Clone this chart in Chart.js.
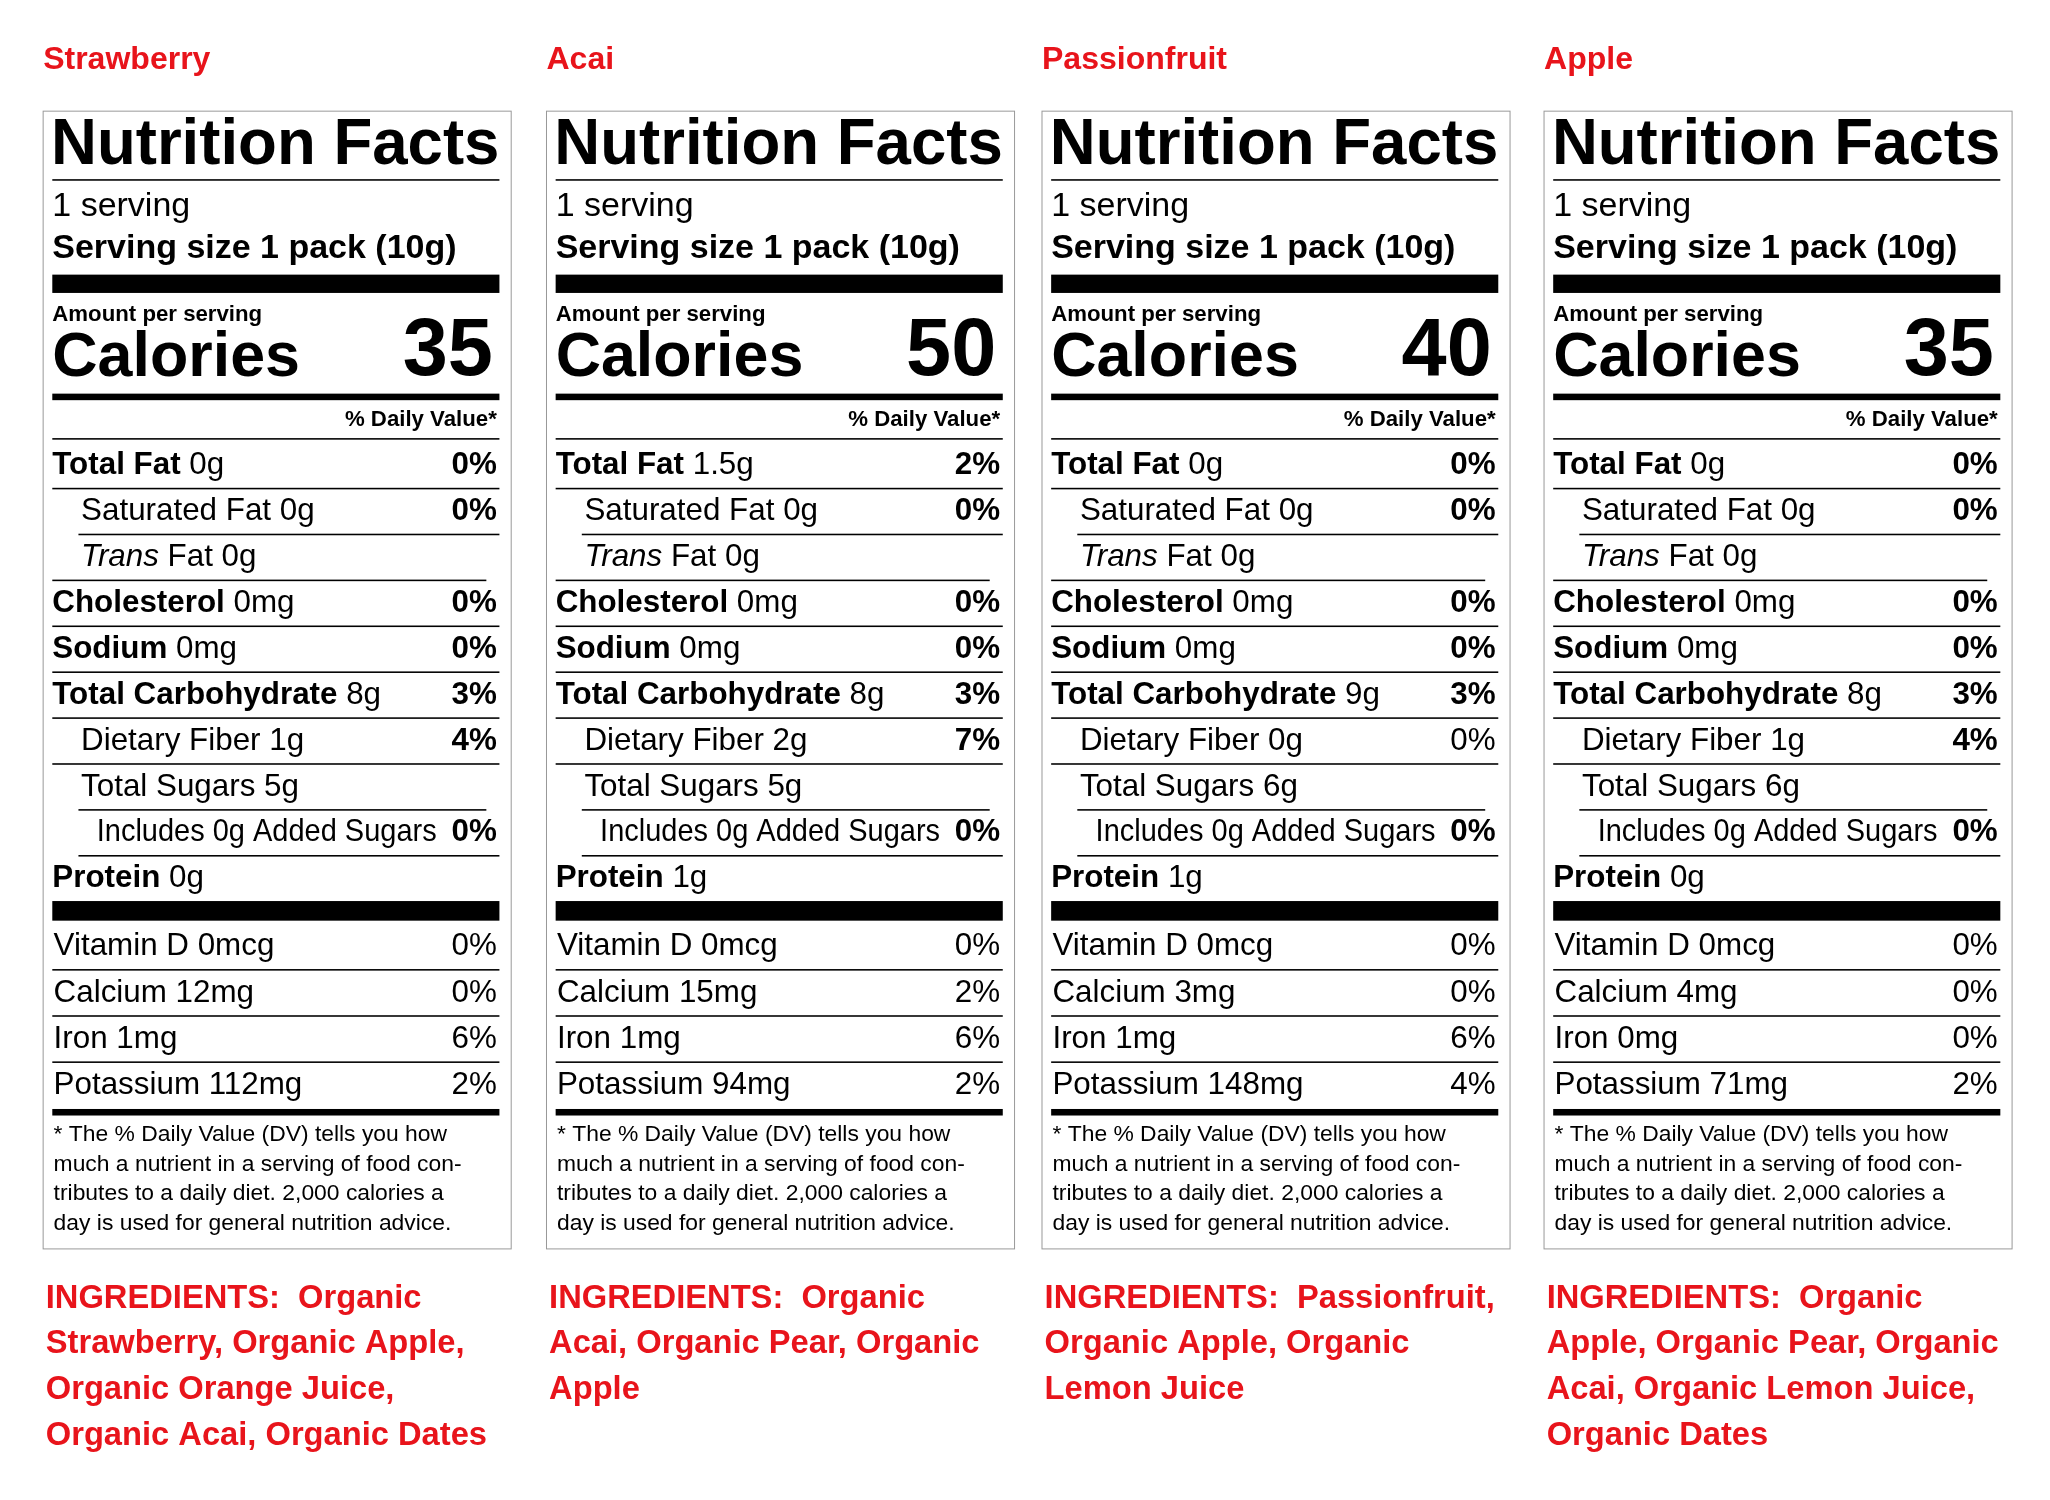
<!DOCTYPE html>
<html><head><meta charset="utf-8">
<script src="https://cdn.jsdelivr.net/npm/chart.js@4/dist/chart.umd.min.js"></script>
<style>html,body{margin:0;padding:0;background:#fff}canvas{display:block}</style>
</head><body><canvas id="c" width="2050" height="1500" style="width:2050px;height:1500px"></canvas>
<script>
const fruits=['Strawberry','Acai','Passionfruit','Apple'];
const calories=[35,50,40,35];
const totalFat=['0g','1.5g','0g','0g'];
const totalFatDV=['0%','2%','0%','0%'];
const satFat=['0g','0g','0g','0g'];
const satFatDV=['0%','0%','0%','0%'];
const transFat=['0g','0g','0g','0g'];
const cholesterol=['0mg','0mg','0mg','0mg'];
const cholesterolDV=['0%','0%','0%','0%'];
const sodium=['0mg','0mg','0mg','0mg'];
const sodiumDV=['0%','0%','0%','0%'];
const carbs=['8g','8g','9g','8g'];
const carbsDV=['3%','3%','3%','3%'];
const fiber=['1g','2g','0g','1g'];
const fiberDV=['4%','7%','0%','4%'];
const fiberDVBold=[true,true,false,true];
const sugars=['5g','5g','6g','6g'];
const addedSugars=['0g','0g','0g','0g'];
const addedSugarsDV=['0%','0%','0%','0%'];
const protein=['0g','1g','1g','0g'];
const vitaminD=['0mcg','0mcg','0mcg','0mcg'];
const vitaminDDV=['0%','0%','0%','0%'];
const calcium=['12mg','15mg','3mg','4mg'];
const calciumDV=['0%','2%','0%','0%'];
const iron=['1mg','1mg','1mg','0mg'];
const ironDV=['6%','6%','6%','0%'];
const potassium=['112mg','94mg','148mg','71mg'];
const potassiumDV=['2%','2%','4%','2%'];
const ingredients=[
 ['INGREDIENTS:  Organic','Strawberry, Organic Apple,','Organic Orange Juice,','Organic Acai, Organic Dates'],
 ['INGREDIENTS:  Organic','Acai, Organic Pear, Organic','Apple'],
 ['INGREDIENTS:  Passionfruit,','Organic Apple, Organic','Lemon Juice'],
 ['INGREDIENTS:  Organic','Apple, Organic Pear, Organic','Acai, Organic Lemon Juice,','Organic Dates']
];
const footnote=['* The % Daily Value (DV) tells you how','much a nutrient in a serving of food con-','tributes to a daily diet. 2,000 calories a','day is used for general nutrition advice.'];
const panelX=[33,418,797,1181];

const F='"Liberation Sans", Arial, Helvetica, sans-serif';
const RED='#e8141b';
const labelPlugin={id:'labels',afterDraw(chart){
 const ctx=chart.ctx, sx=chart.scales.x, sy=chart.scales.y;
 const X=v=>sx.getPixelForValue(v), Y=v=>sy.getPixelForValue(v);
 const k=(X(1568)-X(0))/1568;
 function txt(s,x,y,size,weight,align,color,style,maxW){
  ctx.save();ctx.font=(style||'')+' '+weight+' '+(size*k)+'px '+F;
  ctx.fillStyle=color||'#000';ctx.textBaseline='middle';
  let w=ctx.measureText(s).width;let px=X(x),py=Y(y);
  let sc=1;if(maxW&&w>maxW*k){sc=maxW*k/w;}
  ctx.translate(px,py);ctx.scale(sc,1);
  ctx.textAlign=align||'left';ctx.fillText(s,0,0);ctx.restore();
 }
 function rich(parts,x,y,size,maxW){
  ctx.save();let tw=0;
  parts.forEach(p=>{ctx.font=(p[2]||'')+' '+p[1]+' '+(size*k)+'px '+F;tw+=ctx.measureText(p[0]).width;});
  let sc=(maxW&&tw>maxW*k)?maxW*k/tw:1;
  ctx.translate(X(x),Y(y));ctx.scale(sc,1);ctx.textBaseline='middle';ctx.fillStyle='#000';
  let cx=0;parts.forEach(p=>{ctx.font=(p[2]||'')+' '+p[1]+' '+(size*k)+'px '+F;ctx.fillText(p[0],cx,0);cx+=ctx.measureText(p[0]).width;});
  ctx.restore();
 }
 function bar(x1,x2,y1,y2){ctx.fillStyle='#000';ctx.fillRect(X(x1),Y(y1),X(x2)-X(x1),Math.max(1,Y(y2)-Y(y1)));}
 fruits.forEach((f,i)=>{
  const L=panelX[i], l=L+7, r=L+349, dv=L+347;
  txt(f,L,46,24.5,'bold','left',RED);
  ctx.strokeStyle='#999';ctx.lineWidth=1;ctx.strokeRect(X(L),Y(85),X(L+358)-X(L),Y(955)-Y(85));
  txt('Nutrition Facts',l-1,112,50,'bold','left','#000','',r-l+1);
  bar(l,r,137,138.2);
  txt('1 serving',l,158,26,'normal');
  txt('Serving size 1 pack (10g)',l,190,26,'bold','left','#000','',r-l);
  bar(l,r,210,224);
  txt('Amount per serving',l,241,17,'bold');
  txt('Calories',l,274,48,'bold');
  txt(String(calories[i]),r-5,270,62,'bold','right');
  bar(l,r,301,306);
  txt('% Daily Value*',dv,321,17,'bold','right');
  bar(l,r,335,336.2);
  const rows=[
   [[['Total Fat ','bold'],[totalFat[i],'normal']],totalFatDV[i],0,true],
   [[['Saturated Fat '+satFat[i],'normal']],satFatDV[i],22,true],
   [[['Trans','normal','italic'],[' Fat '+transFat[i],'normal']],'',22,true],
   [[['Cholesterol ','bold'],[cholesterol[i],'normal']],cholesterolDV[i],0,true],
   [[['Sodium ','bold'],[sodium[i],'normal']],sodiumDV[i],0,true],
   [[['Total Carbohydrate ','bold'],[carbs[i],'normal']],carbsDV[i],0,true],
   [[['Dietary Fiber '+fiber[i],'normal']],fiberDV[i],22,fiberDVBold[i]],
   [[['Total Sugars '+sugars[i],'normal']],'',22,true],
   [[['Includes '+addedSugars[i]+' Added Sugars','normal']],addedSugarsDV[i],34,true],
   [[['Protein ','bold'],[protein[i],'normal']],'',0,true]
  ];
  rows.forEach((rw,j)=>{
   const y=356+j*35.1;
   rich(rw[0],l+rw[2],y,24,rw[2]===34?r-l-rw[2]-48:(r-l-rw[2]-50));
   if(rw[1])txt(rw[1],dv,y,24,rw[3]?'bold':'normal','right');
   if(j<9){const x1=(j===0||j>=2&&j<=6)?l:l+20;const x2=(j===2||j===7)?r-10:r;bar(x1,x2,y+17,y+18.2);}
  });
  bar(l,r,689,704);
  const vits=[['Vitamin D '+vitaminD[i],vitaminDDV[i]],['Calcium '+calcium[i],calciumDV[i]],['Iron '+iron[i],ironDV[i]],['Potassium '+potassium[i],potassiumDV[i]]];
  vits.forEach((v,j)=>{const y=724+j*35.3;txt(v[0],l+1,y,24,'normal');txt(v[1],dv,y,24,'normal','right');if(j<3)bar(l,r,y+17,y+18.2);});
  bar(l,r,848,853);
  footnote.forEach((s,j)=>txt(s,l+1,868+j*22.5,17.5,'normal','left','#000','',r-l));
  ingredients[i].forEach((s,j)=>txt(s,L+2,993+j*35,25,'bold','left',RED));
 });
}};
new Chart(document.getElementById('c'),{type:'scatter',data:{datasets:[{data:[],pointRadius:0}]},
 options:{responsive:false,devicePixelRatio:1,animation:false,layout:{padding:0},
  plugins:{legend:{display:false},tooltip:{enabled:false}},
  scales:{x:{type:'linear',min:0,max:1568,display:false},y:{type:'linear',min:0,max:1147,reverse:true,display:false}}},
 plugins:[labelPlugin]});
</script></body></html>
